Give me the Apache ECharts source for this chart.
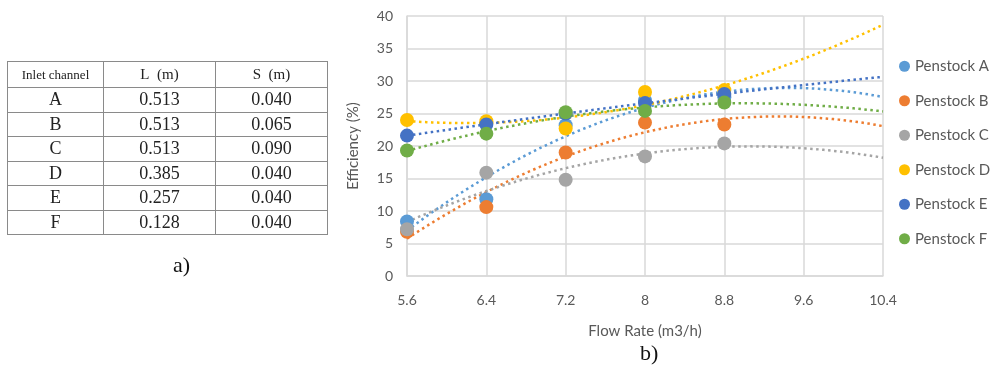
<!DOCTYPE html>
<html>
<head>
<meta charset="utf-8">
<script src="https://cdn.jsdelivr.net/npm/echarts@6/dist/echarts.min.js"></script>
<style>
  html, body { margin: 0; padding: 0; background: #fff; }
  #wrap { position: relative; width: 1002px; height: 379px; }
  #chart { position: absolute; left: 0; top: 0; width: 1002px; height: 379px; }
  #tbl {
    position: absolute; left: 7px; top: 61px; width: 321px;
    border-collapse: collapse; font-family: "Liberation Serif", serif; color: #222;
  }
  #tbl td { border: 1.5px solid #8a8a8a; text-align: center; height: 23.5px; padding: 0; font-size: 18px; }
  #tbl tr.hd td { height: 25px; font-size: 15px; }
  #tbl tr.hd td:first-child { font-size: 13px; }
  .cap { position: absolute; font-family: "Liberation Serif", serif; font-size: 22px; color: #111; }
</style>
</head>
<body>
<div id="wrap">
  <div id="chart"></div>
  <table id="tbl"></table>
  <div class="cap" style="left:173px;top:252px">a)</div>
</div>
<script>
// table a)
var channels = ['A', 'B', 'C', 'D', 'E', 'F']
var lengths = ['0.513', '0.513', '0.513', '0.385', '0.257', '0.128']
var spacings = ['0.040', '0.065', '0.090', '0.040', '0.040', '0.040']

// chart b)
var flowRates = [5.6, 6.4, 7.2, 8, 8.8]
var penstockA = [8.4, 11.8, 23.2, 27.0, 27.5]
var penstockB = [6.8, 10.6, 19.0, 23.6, 23.3]
var penstockC = [7.2, 15.9, 14.8, 18.4, 20.4]
var penstockD = [24.0, 23.8, 22.7, 28.3, 28.6]
var penstockE = [21.6, 23.3, 25.0, 26.6, 28.0]
var penstockF = [19.3, 21.9, 25.2, 25.4, 26.7]
var seriesNames = ['Penstock A', 'Penstock B', 'Penstock C', 'Penstock D', 'Penstock E', 'Penstock F']
var colors = ['#5B9BD5', '#ED7D31', '#A5A5A5', '#FFC000', '#4472C4', '#70AD47']

var tbl = document.getElementById('tbl')
var html = '<tr class="hd"><td style="width:95px">Inlet channel</td><td>L&nbsp;&nbsp;(m)</td><td>S&nbsp;&nbsp;(m)</td></tr>'
channels.forEach(function (c, i) {
  html += '<tr><td>' + c + '</td><td>' + lengths[i] + '</td><td>' + spacings[i] + '</td></tr>'
})
tbl.innerHTML = html

// 2nd order least squares trendline (like Excel), forecast to 10.4
function polyFit (xs, ys) {
  var n = xs.length, s = [0, 0, 0, 0, 0], t = [0, 0, 0]
  for (var i = 0; i < n; i++) {
    for (var k = 0; k < 5; k++) s[k] += Math.pow(xs[i], k)
    for (var j = 0; j < 3; j++) t[j] += ys[i] * Math.pow(xs[i], j)
  }
  var m = [[s[0], s[1], s[2], t[0]], [s[1], s[2], s[3], t[1]], [s[2], s[3], s[4], t[2]]]
  for (var p = 0; p < 3; p++) {
    for (var r = p + 1; r < 3; r++) {
      var f = m[r][p] / m[p][p]
      for (var q = p; q < 4; q++) m[r][q] -= f * m[p][q]
    }
  }
  var c = [0, 0, 0]
  for (var r2 = 2; r2 >= 0; r2--) {
    var v = m[r2][3]
    for (var q2 = r2 + 1; q2 < 3; q2++) v -= m[r2][q2] * c[q2]
    c[r2] = v / m[r2][r2]
  }
  return c
}

var allValues = [penstockA, penstockB, penstockC, penstockD, penstockE, penstockF]
var series = []
allValues.forEach(function (vals, i) {
  var c = polyFit(flowRates, vals)
  var line = []
  for (var x = 5.6; x <= 10.4001; x += 0.05) line.push([x, c[0] + c[1] * x + c[2] * x * x])
  series.push({
    name: seriesNames[i] + ' trend',
    type: 'line',
    data: line,
    showSymbol: false,
    silent: true,
    z: 1,
    lineStyle: { color: colors[i], width: 2.5, type: [2.5, 3.5] }
  })
})
allValues.forEach(function (vals, i) {
  series.push({
    name: seriesNames[i],
    type: 'scatter',
    data: flowRates.map(function (x, j) { return [x, vals[j]] }),
    symbolSize: 14,
    z: 3,
    itemStyle: { color: colors[i], opacity: 1 }
  })
})

var myChart = echarts.init(document.getElementById('chart'))
var option = {
  animation: false,
  color: colors,
  grid: { left: 407, right: 119, top: 16, bottom: 103 },
  legend: {
    data: seriesNames,
    orient: 'vertical',
    left: 894,
    top: 53,
    icon: 'circle',
    itemWidth: 11,
    itemHeight: 11,
    itemGap: 18,
    textStyle: { fontFamily: 'Lato', fontSize: 15, color: '#595959', lineHeight: 16.5 }
  },
  xAxis: {
    type: 'value',
    min: 5.6,
    max: 10.4,
    interval: 0.8,
    name: 'Flow Rate (m3/h)',
    nameLocation: 'middle',
    nameGap: 48,
    nameTextStyle: { fontFamily: 'Lato', fontSize: 15, color: '#595959' },
    axisLine: { lineStyle: { color: '#d9d9d9', width: 1.5 } },
    axisTick: { show: false },
    axisLabel: {
      margin: 17,
      fontFamily: 'Lato', fontSize: 14, color: '#595959',
      formatter: function (v) { return String(Math.round(v * 10) / 10) }
    },
    splitLine: { show: true, lineStyle: { color: '#d9d9d9', width: 1.5 } }
  },
  yAxis: {
    type: 'value',
    min: 0,
    max: 40,
    interval: 5,
    name: 'Efficiency (%)',
    nameLocation: 'middle',
    nameGap: 46,
    nameRotate: 90,
    nameTextStyle: { fontFamily: 'Lato', fontSize: 15, color: '#595959' },
    axisLine: { show: true, lineStyle: { color: '#d9d9d9', width: 1.5 } },
    axisTick: { show: false },
    axisLabel: { margin: 14, fontFamily: 'Lato', fontSize: 14, color: '#595959' },
    splitLine: { lineStyle: { color: '#d9d9d9', width: 1.5 } }
  },
  graphic: [
    { type: 'text', left: 640, top: 343, style: { text: 'b)', font: '22px "Liberation Serif"', fill: '#111' } }
  ],
  series: series
}
myChart.setOption(option)
</script>
</body>
</html>
